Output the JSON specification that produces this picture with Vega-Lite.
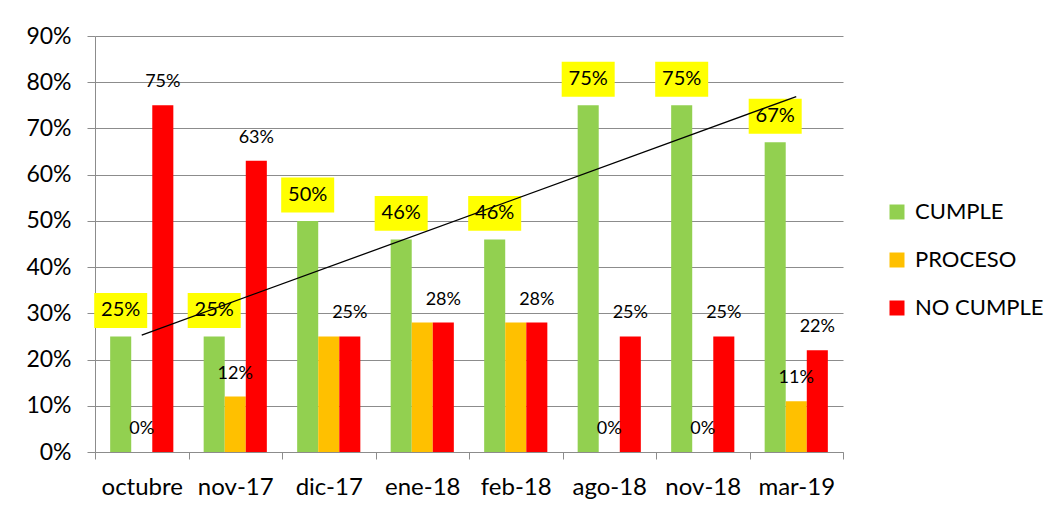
{
  "$schema": "https://vega.github.io/schema/vega-lite/v6.json",
  "autosize": "none",
  "width": 748,
  "height": 416,
  "padding": {"left": 95, "top": 36, "right": 216, "bottom": 61},
  "background": "white",
  "config": {
    "font": "Lato",
    "view": {"stroke": null},
    "axis": {"gridColor": "#8c8c8c", "domainColor": "#8c8c8c", "tickColor": "#8c8c8c", "labelColor": "#000000", "labelFont": "Lato", "labelFontWeight": "normal"}
  },
  "datasets": {
    "barras": [
      {"mes": "octubre", "serie": "CUMPLE", "valor": 0.25, "mostrar": true},
      {"mes": "octubre", "serie": "PROCESO", "valor": 0.0, "mostrar": true},
      {"mes": "octubre", "serie": "NO CUMPLE", "valor": 0.75, "mostrar": true},
      {"mes": "nov-17", "serie": "CUMPLE", "valor": 0.25, "mostrar": true},
      {"mes": "nov-17", "serie": "PROCESO", "valor": 0.12, "mostrar": true},
      {"mes": "nov-17", "serie": "NO CUMPLE", "valor": 0.63, "mostrar": true},
      {"mes": "dic-17", "serie": "CUMPLE", "valor": 0.50, "mostrar": true},
      {"mes": "dic-17", "serie": "PROCESO", "valor": 0.25, "mostrar": false},
      {"mes": "dic-17", "serie": "NO CUMPLE", "valor": 0.25, "mostrar": true},
      {"mes": "ene-18", "serie": "CUMPLE", "valor": 0.46, "mostrar": true},
      {"mes": "ene-18", "serie": "PROCESO", "valor": 0.28, "mostrar": false},
      {"mes": "ene-18", "serie": "NO CUMPLE", "valor": 0.28, "mostrar": true},
      {"mes": "feb-18", "serie": "CUMPLE", "valor": 0.46, "mostrar": true},
      {"mes": "feb-18", "serie": "PROCESO", "valor": 0.28, "mostrar": false},
      {"mes": "feb-18", "serie": "NO CUMPLE", "valor": 0.28, "mostrar": true},
      {"mes": "ago-18", "serie": "CUMPLE", "valor": 0.75, "mostrar": true},
      {"mes": "ago-18", "serie": "PROCESO", "valor": 0.0, "mostrar": true},
      {"mes": "ago-18", "serie": "NO CUMPLE", "valor": 0.25, "mostrar": true},
      {"mes": "nov-18", "serie": "CUMPLE", "valor": 0.75, "mostrar": true},
      {"mes": "nov-18", "serie": "PROCESO", "valor": 0.0, "mostrar": true},
      {"mes": "nov-18", "serie": "NO CUMPLE", "valor": 0.25, "mostrar": true},
      {"mes": "mar-19", "serie": "CUMPLE", "valor": 0.67, "mostrar": true},
      {"mes": "mar-19", "serie": "PROCESO", "valor": 0.11, "mostrar": true},
      {"mes": "mar-19", "serie": "NO CUMPLE", "valor": 0.22, "mostrar": true}
    ],
    "tendencia": [
      {"mes": "octubre", "valor": 0.253},
      {"mes": "mar-19", "valor": 0.769}
    ]
  },
  "encoding": {
    "x": {
      "field": "mes", "type": "nominal",
      "scale": {"domain": ["octubre", "nov-17", "dic-17", "ene-18", "feb-18", "ago-18", "nov-18", "mar-19"], "paddingInner": 0, "paddingOuter": 0},
      "axis": {"title": null, "labelAngle": 0, "labelFontSize": 24, "tickBand": "extent", "tickSize": 7, "labelPadding": 16, "grid": false}
    },
    "y": {
      "field": "valor", "type": "quantitative",
      "scale": {"domain": [0, 0.9], "nice": false},
      "axis": {"title": null, "format": ".0%", "values": [0, 0.1, 0.2, 0.3, 0.4, 0.5, 0.6, 0.7, 0.8, 0.9], "labelFontSize": 23, "tickSize": 8, "labelPadding": 16, "grid": true}
    }
  },
  "layer": [
    {
      "data": {"name": "barras"},
      "mark": {"type": "bar"},
      "encoding": {
        "xOffset": {"field": "serie", "type": "nominal", "scale": {"domain": ["CUMPLE", "PROCESO", "NO CUMPLE"], "paddingInner": 0, "paddingOuter": 0.72}},
        "color": {
          "field": "serie", "type": "nominal",
          "scale": {"domain": ["CUMPLE", "PROCESO", "NO CUMPLE"], "range": ["#92D050", "#FFC000", "#FF0000"]},
          "legend": {"title": null, "orient": "none", "legendX": 791, "legendY": 165, "symbolType": "square", "symbolSize": 225, "symbolStrokeWidth": 0, "labelFontSize": 22, "labelFont": "Lato", "labelColor": "#000000", "rowPadding": 26, "labelOffset": 7, "padding": 0}
        }
      }
    },
    {
      "data": {"name": "barras"},
      "transform": [{"filter": "datum.serie === 'CUMPLE'"}],
      "mark": {"type": "point", "shape": "M-1,-0.66L1,-0.66L1,0.66L-1,0.66Z", "size": 2809, "filled": true, "color": "#FFFF00", "opacity": 1, "strokeWidth": 0, "yOffset": -26},
      "encoding": {
        "xOffset": {"field": "serie", "type": "nominal", "scale": {"domain": ["CUMPLE", "PROCESO", "NO CUMPLE"], "paddingInner": 0, "paddingOuter": 0.72}}
      }
    },
    {
      "data": {"name": "tendencia"},
      "mark": {"type": "line", "color": "#000000", "strokeWidth": 1.3},
      "encoding": {}
    },
    {
      "data": {"name": "barras"},
      "transform": [{"filter": "datum.serie === 'CUMPLE'"}],
      "mark": {"type": "text", "fontSize": 20, "color": "#000000", "baseline": "middle", "dy": -26},
      "encoding": {
        "xOffset": {"field": "serie", "type": "nominal", "scale": {"domain": ["CUMPLE", "PROCESO", "NO CUMPLE"], "paddingInner": 0, "paddingOuter": 0.72}},
        "text": {"field": "valor", "type": "quantitative", "format": ".0%"}
      }
    },
    {
      "data": {"name": "barras"},
      "transform": [{"filter": "datum.serie !== 'CUMPLE' && datum.mostrar"}],
      "mark": {"type": "text", "fontSize": 18, "color": "#000000", "baseline": "middle", "dy": -23},
      "encoding": {
        "xOffset": {"field": "serie", "type": "nominal", "scale": {"domain": ["CUMPLE", "PROCESO", "NO CUMPLE"], "paddingInner": 0, "paddingOuter": 0.72}},
        "text": {"field": "valor", "type": "quantitative", "format": ".0%"}
      }
    }
  ]
}
